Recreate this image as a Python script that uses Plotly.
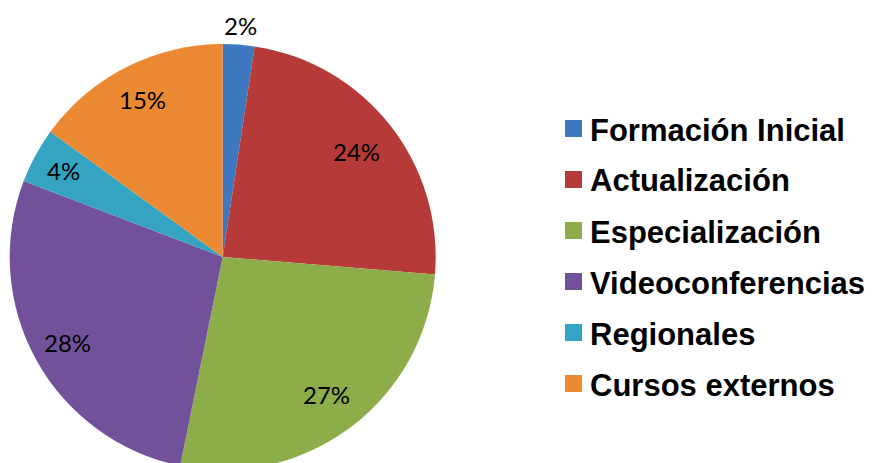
import math
import plotly.graph_objects as go

labels = ["Formación Inicial", "Actualización", "Especialización",
          "Videoconferencias", "Regionales", "Cursos externos"]
values = [2.4, 23.9, 26.9, 27.6, 4.2, 15.0]
colors = ["#3E78C0", "#B63B38", "#8CAD49", "#71529A", "#35A4C2", "#EC8A33"]
label_radius = [1.09, 0.80, 0.81, 0.83, 0.85, 0.83]  # fraction of pie radius

W, H = 875, 470
cx, cy, r = 222.7, 257.0, 213.0

fig = go.Figure()
fig.add_trace(go.Pie(
    labels=labels, values=values, sort=False, direction="clockwise", rotation=0,
    marker=dict(colors=colors, line=dict(width=0)),
    textinfo="none", showlegend=False, hoverinfo="skip",
    domain=dict(x=[(cx - r) / W, (cx + r) / W], y=[0, 2 * r / H]),
))

# percentage labels placed along each slice's bisector
total = sum(values)
cum = 0.0
for v, fr in zip(values, label_radius):
    mid = (cum + v / 2) / total * 2 * math.pi
    cum += v
    px = cx + fr * r * math.sin(mid)
    py = cy - fr * r * math.cos(mid)
    fig.add_annotation(x=px / W, y=1 - py / H, xref="paper", yref="paper",
                       text=f"{round(v / total * 100)}%", showarrow=False,
                       xanchor="center", yanchor="middle",
                       font=dict(family="Lato", size=24, color="black"))

# legend drawn as squares + text
row0, gap = 128.5, 51.0
for i, (lab, col) in enumerate(zip(labels, colors)):
    yc = row0 + gap * i
    fig.add_shape(type="rect", xref="paper", yref="paper",
                  x0=565 / W, x1=582 / W, y0=1 - (yc + 8.5) / H, y1=1 - (yc - 8.5) / H,
                  fillcolor=col, line=dict(width=0))
    fig.add_annotation(x=588 / W, y=1 - (yc + 1.5) / H, xref="paper", yref="paper",
                       text=f"<b>{lab}</b>", showarrow=False, xanchor="left", yanchor="middle",
                       font=dict(family="Liberation Sans", size=31, color="black"))

fig.update_layout(width=W, height=H, margin=dict(l=0, r=0, t=0, b=0),
                  paper_bgcolor="white", plot_bgcolor="white")

fig.write_html("out.html",
               post_script="document.documentElement.style.overflow='hidden';document.body.style.overflow='hidden';")
